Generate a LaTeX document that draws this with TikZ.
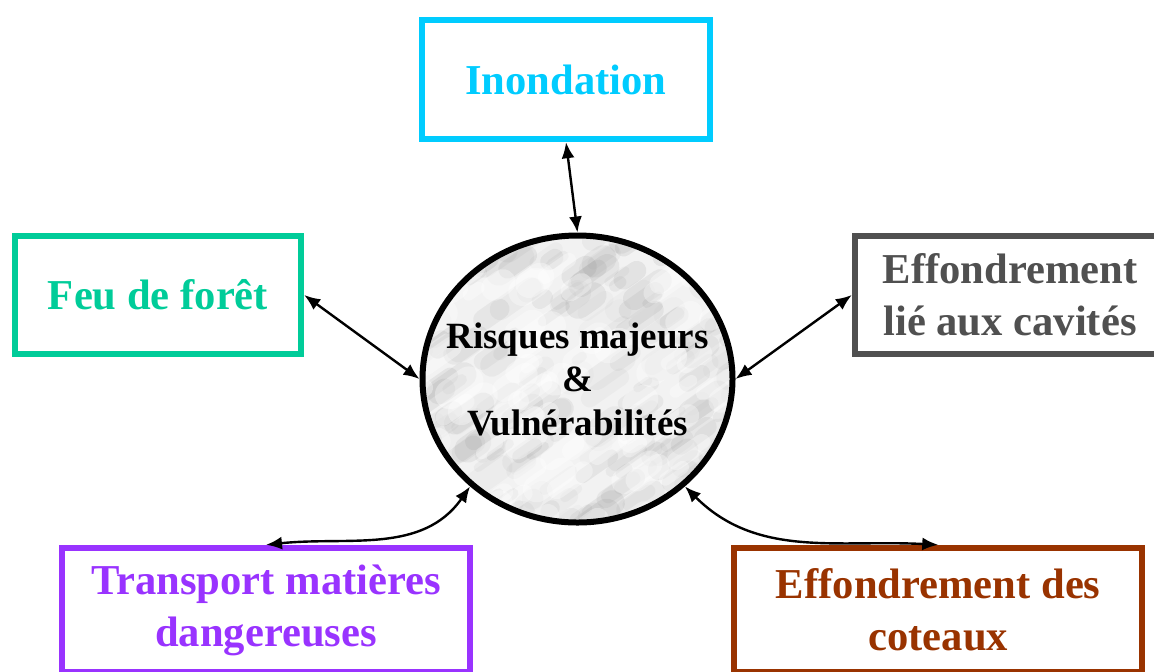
\documentclass[tikz,border=0pt]{standalone}
\usepackage{fontspec}
\setmainfont{Liberation Serif}
\usetikzlibrary{arrows.meta}
\usetikzlibrary{shapes.geometric}

\definecolor{inocol}{HTML}{00CCFF}
\definecolor{feucol}{HTML}{00CC99}
\definecolor{cavcol}{HTML}{505050}
\definecolor{tmdcol}{HTML}{9933FF}
\definecolor{cotcol}{HTML}{993300}

\begin{document}
\begin{tikzpicture}[
	x=0.5pt, y=-0.5pt,
	box/.style={draw=#1, text=#1, line width=3.2pt, align=center,
		font=\fontsize{21.3}{26}\selectfont\bfseries},
	hub/.style={ellipse, draw=black, line width=3pt, fill=gray!10,
		minimum width=155pt, minimum height=143.5pt, inner sep=0pt},
	hubtext/.style={align=center, font=\fontsize{18.5}{21.75}\selectfont\bfseries},
	link/.style={line width=1.2pt, {Latex[length=8pt,width=6.5pt]}-{Latex[length=8pt,width=6.5pt]}}
]
\useasboundingbox (0,0) rectangle (1154,671);

% marble disc in the middle
\node[hub, path picture={
	\pgfmathsetseed{23}
	\foreach \k in {1,...,220}{
		\pgfmathsetmacro{\mx}{-170+340*rnd}
		\pgfmathsetmacro{\my}{-160+320*rnd}
		\pgfmathsetmacro{\mr}{3+16*rnd}
		\pgfmathsetmacro{\mw}{4+10*rnd}
		\pgfmathsetmacro{\mo}{0.03+0.09*rnd}
		\draw[black!55, opacity=\mo, line width=\mw pt, line cap=round]
			(path picture bounding box.center) ++(\mx,\my) -- ++(35:\mr pt);
	}
	\foreach \k in {1,...,90}{
		\pgfmathsetmacro{\mx}{-170+340*rnd}
		\pgfmathsetmacro{\my}{-160+320*rnd}
		\pgfmathsetmacro{\mr}{3+14*rnd}
		\pgfmathsetmacro{\mw}{5+10*rnd}
		\draw[white, opacity=0.35, line width=\mw pt, line cap=round]
			(path picture bounding box.center) ++(\mx,\my) -- ++(35:\mr pt);
	}
}] (risk) at (577.5,379) {};
\node[hubtext] (risklbl) at (risk.center) {Risques majeurs\\\&\\Vulnérabilités};

% the five risks
\node[box=inocol, minimum width=144pt, minimum height=59.5pt] (ino) at (566,79.5) {Inondation};
\node[box=feucol, minimum width=143pt, minimum height=59pt] (feu) at (158,295) {Feu de forêt};
\node[box=cavcol, minimum width=155pt, minimum height=59pt] (cav) at (1010,295) {Effondrement\\lié aux cavités};
\node[box=tmdcol, minimum width=204pt, minimum height=62pt] (tmd) at (266,610) {Transport matières\\dangereuses};
\node[box=cotcol, minimum width=204pt, minimum height=62pt] (cot) at (938.25,610) {Effondrement des\\coteaux};

\draw[link] (ino.south) -- (risk.north);
\draw[link] (feu.east) -- (risk.west);
\draw[link] (cav.west) -- (risk.east);
\draw[link] (risk.225) to[out=235, in=6] (tmd.north);
\draw[link] (risk.-45) to[out=-45, in=177] (cot.north);
\end{tikzpicture}
\end{document}
